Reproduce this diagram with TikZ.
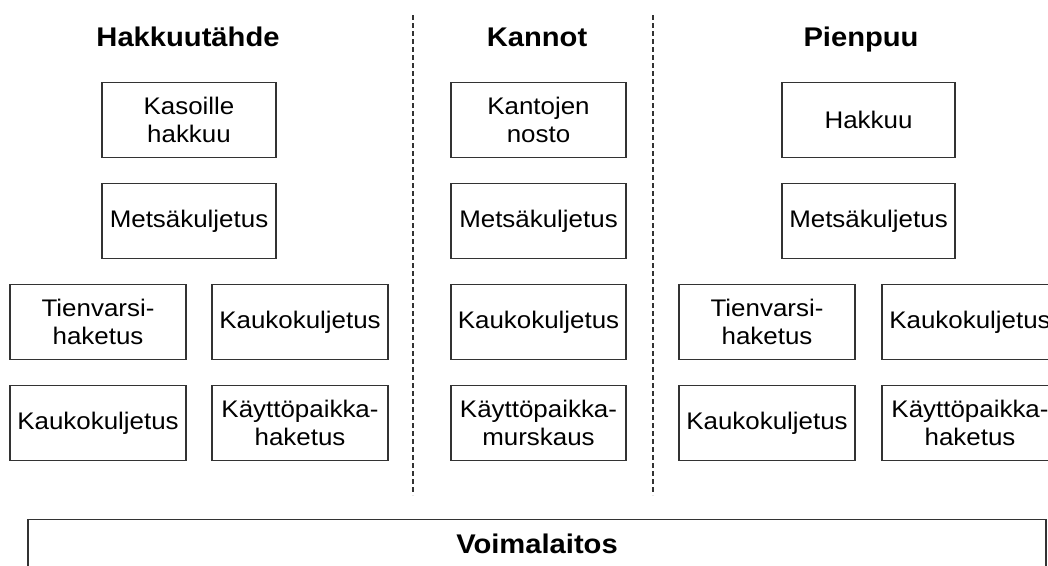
\documentclass[tikz,border=0pt]{standalone}
\usepackage{fontspec}
\setmainfont{Liberation Sans}[FakeStretch=1.08]
\usetikzlibrary{positioning}
\definecolor{boxC}{RGB}{51,51,51}

\begin{document}
\begin{tikzpicture}[
  x=1pt, y=-1pt,
  stage/.style={draw=boxC, line width=1.4pt, minimum height=75pt, minimum width=174pt,
                align=center, inner sep=0pt, font=\fontsize{24}{27.6}\selectfont},
  pair/.style={stage, minimum width=176pt},
  head/.style={anchor=base, font=\fontsize{27}{31}\selectfont\bfseries},
  sep/.style={draw=boxC, line width=1.3pt, dash pattern=on 5pt off 3pt},
]
\clip (0,0) rectangle (1048,565);

% ---------------- headings ----------------
\node[head] (hHT) at (188,46)   {Hakkuutähde};
\node[head] (hKA) at (537,46)   {Kannot};
\node[head] (hPP) at (861,46)   {Pienpuu};

% ---------------- Hakkuutähde ----------------
\node[stage] (ht1) at (189,120)   {Kasoille\\hakkuu};
\node[stage] (ht2) at (189,221)   {Metsäkuljetus};
\node[pair]  (ht3) at (98,322)    {Tienvarsi-\\haketus};
\node[pair]  (ht4) at (300,322)   {Kaukokuljetus};
\node[pair]  (ht5) at (98,423)    {Kaukokuljetus};
\node[pair]  (ht6) at (300,423)   {Käyttöpaikka-\\haketus};

% ---------------- Kannot ----------------
\node[stage, minimum width=175pt] (ka1) at (538.5,120) {Kantojen\\nosto};
\node[stage, minimum width=175pt] (ka2) at (538.5,221) {Metsäkuljetus};
\node[stage, minimum width=175pt] (ka3) at (538.5,322) {Kaukokuljetus};
\node[stage, minimum width=175pt] (ka4) at (538.5,423) {Käyttöpaikka-\\murskaus};

% ---------------- Pienpuu ----------------
\node[stage, minimum width=173pt] (pp1) at (868.5,120) {Hakkuu};
\node[stage, minimum width=173pt] (pp2) at (868.5,221) {Metsäkuljetus};
\node[pair]  (pp3) at (767,322)   {Tienvarsi-\\haketus};
\node[pair]  (pp4) at (970,322)   {Kaukokuljetus};
\node[pair]  (pp5) at (767,423)   {Kaukokuljetus};
\node[pair]  (pp6) at (970,423)   {Käyttöpaikka-\\haketus};

% ---------------- separators ----------------
\coordinate (s1a) at (413,15);  \coordinate (s1b) at (413,495);
\coordinate (s2a) at (653,15);  \coordinate (s2b) at (653,495);
\draw[sep] (s1a) -- (s1b);
\draw[sep] (s2a) -- (s2b);

% ---------------- power plant ----------------
\node[stage, minimum width=1018pt, minimum height=90pt, anchor=north,
      font=\fontsize{27}{31}\selectfont\bfseries, text depth=42pt] (vl) at (537,519) {Voimalaitos};

\end{tikzpicture}
\end{document}
